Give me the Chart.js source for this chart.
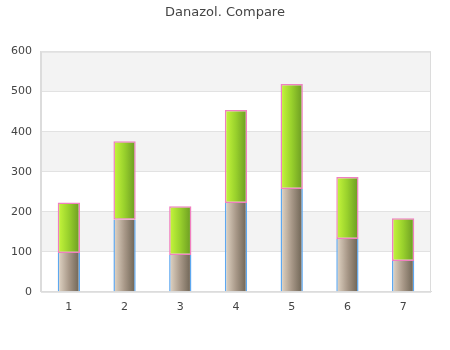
<!DOCTYPE html>
<html><head><meta charset="utf-8">
<script src="https://cdn.jsdelivr.net/npm/chart.js"></script>
<style>html,body{margin:0;padding:0;background:#fff}#w{width:450px;height:350px}</style>
</head><body><div id="w"><canvas id="c" width="450" height="350"></canvas></div>
<script>
const categories = ["1","2","3","4","5","6","7"];
const baseValues = [97, 180, 92, 222, 257, 132, 77];
const topValues = [126, 196, 122, 232, 262, 155, 107];
const yTicks = [0, 100, 200, 300, 400, 500, 600];
const titleText = "Danazol. Compare";

const BAR_PCT = 0.4;
function grad(ctx, c1, c2) {
  const chart = ctx.chart;
  const xs = chart.scales.x;
  if (!xs || !chart.chartArea) return c2;
  const cx = xs.getPixelForValue(ctx.dataIndex);
  const w = (chart.chartArea.right - chart.chartArea.left) / categories.length * BAR_PCT;
  const g = chart.ctx.createLinearGradient(cx - w / 2, 0, cx + w / 2, 0);
  g.addColorStop(0, c1[0]);
  g.addColorStop(0.5, c1[1]);
  g.addColorStop(1, c2);
  return g;
}
const bands = {
  id: 'bands',
  afterLayout(chart) {
    const t = chart.titleBlock;
    if (t) { t.left = 0; t.right = chart.width; t.width = chart.width; }
  },
  beforeDraw(chart) {
    const {ctx, chartArea: a, scales: {y}} = chart;
    ctx.save();
    for (let i = 0; i < yTicks.length - 1; i++) {
      if (i % 2 === 1) {
        const t = y.getPixelForValue(yTicks[i + 1]);
        const b = y.getPixelForValue(yTicks[i]);
        ctx.fillStyle = '#f3f3f3';
        ctx.fillRect(a.left, t, a.right - a.left, b - t);
      }
    }
    ctx.restore();
  },
  afterDatasetsDraw(chart) {
    const {ctx, chartArea: a} = chart;
    ctx.save();
    ctx.strokeStyle = '#dcdcdc';
    ctx.lineWidth = 1;
    ctx.strokeRect(a.left + 0.5, a.top + 0.5, a.right - a.left - 1, a.bottom - a.top);
    ctx.restore();
  }
};
new Chart(document.getElementById('c'), {
  type: 'bar',
  data: {
    labels: categories,
    datasets: [
      {
        data: baseValues,
        backgroundColor: (c) => grad(c, ['#e4d8c8', '#a89888'], '#6b6152'),
        borderColor: '#5ea8f0',
        borderWidth: {left: 1.5, right: 1.5, top: 0, bottom: 0},
        borderSkipped: false
      },
      {
        data: topValues,
        backgroundColor: (c) => grad(c, ['#c8f83c', '#98d02c'], '#6a9a22'),
        borderColor: '#f080c0',
        borderWidth: 1.5,
        borderSkipped: false
      }
    ]
  },
  options: {
    responsive: false,
    animation: false,
    devicePixelRatio: 1,
    layout: {padding: {left: 2, right: 19, top: 0, bottom: 35}},
    datasets: {bar: {categoryPercentage: 1, barPercentage: BAR_PCT}},
    plugins: {
      legend: {display: false},
      tooltip: {enabled: false},
      title: {
        display: true, text: titleText, color: '#444',
        font: {family: 'DejaVu Sans', size: 13, weight: 'normal'},
        padding: {top: 5, bottom: 31}
      }
    },
    scales: {
      x: {
        stacked: true,
        grid: {display: false},
        border: {color: '#dcdcdc'},
        ticks: {color: '#444', font: {family: 'DejaVu Sans', size: 11}, padding: 1}
      },
      y: {
        stacked: true, min: 0, max: 600,
        afterBuildTicks: (s) => { s.ticks = yTicks.map(v => ({value: v})); },
        grid: {color: '#e2e2e2', drawTicks: false},
        border: {color: '#dcdcdc'},
        ticks: {color: '#444', font: {family: 'DejaVu Sans', size: 11}, padding: 9}
      }
    }
  },
  plugins: [bands]
});
</script></body></html>
